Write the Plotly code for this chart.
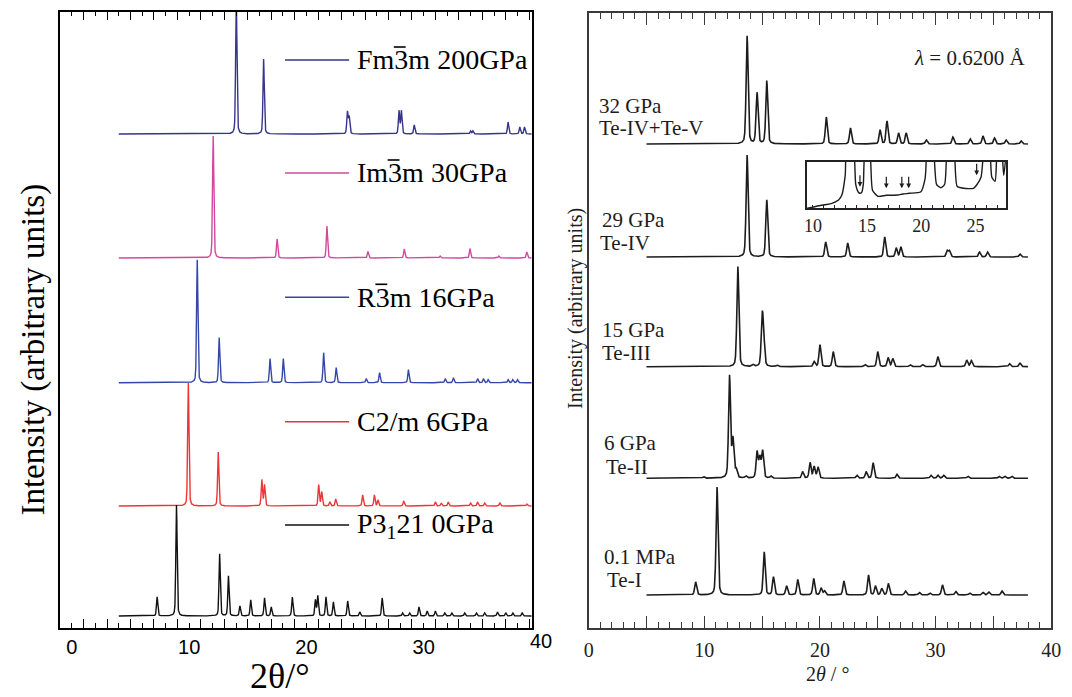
import numpy as np
import plotly.graph_objects as go

W, H = 1072, 697

# ---------------- LEFT PANEL DATA (calculated patterns) ----------------
left_names = ["Fm3m 200GPa", "Im3m 30GPa", "R3m 16GPa", "C2/m 6GPa", "P3<sub>1</sub>21 0GPa"]
left_colors = ["#35358a", "#d2489e", "#3446a8", "#ee3535", "#111111"]
left_offsets = [494, 370, 245.3, 122, 12]
# character width (em) of the text before the barred "3" in each label (None = no bar)
left_bar_prefix_em = [1.334, 1.111, 0.667, None, None]

fm3m_pos = [14.02, 16.35, 23.5, 23.65, 27.9, 28.1, 29.2, 34.0, 34.2, 37.2, 38.2, 38.6]
fm3m_h = [135, 75, 22, 17, 23, 23, 9, 3, 3, 12, 7, 7]

im3m_pos = [12.05, 17.5, 21.75, 25.25, 28.35, 31.4, 33.95, 36.4, 38.8]
im3m_h = [122, 19, 32, 6.5, 9, 2, 9.5, 2, 6]

r3m_pos = [10.69, 12.56, 16.9, 18.03, 21.47, 22.54, 25.1, 26.24, 28.7, 31.84, 32.54, 34.6, 35.1, 35.5, 37.2, 37.6, 38.0]
r3m_h = [123, 45, 24, 24, 30, 15, 4, 10, 13, 4, 5, 4, 4, 3, 3, 3, 3]

c2m_pos = [9.93, 12.48, 16.2, 16.43, 21.05, 21.3, 22.0, 22.5, 24.8, 25.8, 26.1, 28.3, 31.0, 31.5, 32.1, 34.0, 34.6, 35.2, 36.5, 38.8]
c2m_h = [123, 54, 26, 21, 21, 14, 4, 7, 11, 11, 6, 5, 4, 3, 4, 3, 4, 3, 3, 2]

p3121_pos = [7.27, 8.92, 12.6, 13.35, 14.33, 15.25, 16.43, 17.0, 18.8, 20.77, 20.97, 21.67, 22.3,
             23.52, 24.55, 26.46, 28.2, 28.8, 29.6, 30.3, 31.0, 31.8, 32.4, 33.5, 34.5, 35.2, 36.3, 37.0, 37.6, 38.4]
p3121_h = [19, 111, 62, 40, 10, 16, 18, 9, 19, 16, 20, 19, 14,
           15, 4, 18, 3, 3, 9, 5, 5, 3, 3, 3, 3, 3, 4, 3, 3, 3]

left_peaks = [(fm3m_pos, fm3m_h), (im3m_pos, im3m_h), (r3m_pos, r3m_h), (c2m_pos, c2m_h), (p3121_pos, p3121_h)]

# ---------------- RIGHT PANEL DATA (measured patterns) ----------------
right_labels = [("32 GPa", "Te-IV+Te-V"), ("29 GPa", "Te-IV"), ("15 GPa", "Te-III"), ("6 GPa", "Te-II"), ("0.1 MPa", "Te-I")]
right_offsets = [483.7, 370.7, 261, 149.4, 32.7]

p32_pos = [13.70, 14.56, 15.40, 20.55, 22.64, 25.2, 25.8, 26.8, 27.46, 29.2, 31.5, 33.0, 34.1, 35.1, 36.1, 37.4]
p32_h = [108, 51, 63, 27, 16, 14, 23, 11, 11, 4, 7, 5, 8, 6, 4, 3]

p29_pos = [13.70, 15.40, 20.5, 22.4, 25.6, 26.6, 27.0, 31.0, 31.2, 33.8, 34.5, 37.3]
p29_h = [102, 57, 15, 14, 20, 9, 10, 6, 6, 5, 5, 3]

p15_pos = [12.9, 14.2, 15.0, 15.13, 16.3, 19.5, 20.0, 21.15, 23.9, 25.0, 25.9, 26.3, 27.8, 28.9, 30.2, 32.7, 33.1, 36.4, 37.3]
p15_h = [100, 2, 46, 26, 1.5, 5, 22, 15, 2, 15, 9, 8, 2, 2, 10, 6.5, 6, 3, 3.5]

p6_pos = [9.95, 12.18, 12.47, 12.75, 13.6, 14.56, 14.8, 15.04, 15.76, 18.5, 19.15, 19.5, 19.84,
          23.2, 24.0, 24.6, 26.66, 29.6, 30.2, 30.7, 32.8, 35.5, 36.0, 36.6]
p6_h = [1.5, 102, 38, 8, 2, 26, 20, 27, 2, 6.5, 15.5, 11.5, 11,
        3, 6.5, 15.5, 4, 3, 3, 3, 2, 2, 2, 2]

p01_pos = [9.25, 11.1, 15.18, 15.98, 17.12, 18.08, 19.46, 20.1, 20.4, 22.07, 24.2, 24.8, 25.35, 25.92,
           27.4, 28.6, 29.5, 30.6, 31.75, 32.96, 34.1, 34.6, 35.75]
p01_h = [13, 108, 43, 18, 9, 15.5, 16.5, 7, 4, 14, 20, 9, 6.5, 11.5,
         4, 2.5, 2, 10, 3.5, 2, 2.5, 3, 4]

right_peaks = [(p32_pos, p32_h), (p29_pos, p29_h), (p15_pos, p15_h), (p6_pos, p6_h), (p01_pos, p01_h)]

# Inset curve (values above the box are clipped)
inset_x = [9.48, 10.55, 11.76, 12.37, 12.67, 12.98, 13.15, 13.7, 13.95, 14.2, 14.34, 14.5, 14.65, 14.85,
           15.2, 15.5, 16.0, 16.77, 17.83, 18.3, 18.9, 19.96, 20.35, 20.6, 21.05, 21.4, 21.8, 22.15, 22.45,
           22.95, 23.3, 23.9, 24.8, 25.1, 25.5, 25.85, 26.25, 26.5, 26.8, 27.05, 27.35, 27.6, 27.85]
inset_y = [0, 2.6, 5, 8.3, 13.3, 33, 60, 60, 24, 16, 15, 16, 24, 60,
           60, 18, 12, 13, 13.3, 14.3, 15, 16.6, 30, 60, 60, 24, 20.5, 24, 60,
           60, 22, 20, 20, 23.3, 31, 60, 60, 31, 27, 60, 60, 33, 60]
inset_arrows_x = [14.34, 16.77, 18.2, 18.83, 25.1]
inset_arrows_tip = [21.5, 20, 20, 20, 33]


def profile(x, pos, h, w, eta=0.35):
    y = np.zeros_like(x)
    for p, a in zip(pos, h):
        d = (x - p) / (w / 2.0)
        y += a * (eta / (1.0 + d * d) + (1 - eta) * np.exp(-np.log(2) * d * d))
    return y


fig = go.Figure()

xl = np.arange(4.0, 39.25, 0.01)
for (pos, h), off, col in zip(left_peaks, left_offsets, left_colors):
    fig.add_trace(go.Scatter(x=xl, y=off + profile(xl, pos, h, 0.13), mode="lines",
                             line=dict(color=col, width=1.4), xaxis="x", yaxis="y",
                             showlegend=False, hoverinfo="skip"))

xr = np.arange(5.0, 38.0, 0.01)
for (pos, h), off in zip(right_peaks, right_offsets):
    fig.add_trace(go.Scatter(x=xr, y=off + profile(xr, pos, h, 0.2), mode="lines",
                             line=dict(color="#1c1c1c", width=1.6), xaxis="x2", yaxis="y2",
                             showlegend=False, hoverinfo="skip"))

fig.add_trace(go.Scatter(x=inset_x, y=inset_y, mode="lines",
                         line=dict(color="#1c1c1c", width=1.4, shape="spline", smoothing=0.6),
                         xaxis="x3", yaxis="y3", showlegend=False, hoverinfo="skip"))


def px(x):
    return x / W


def py(y):
    return 1 - y / H


SERIF = "Liberation Serif"
SANS = "Liberation Sans"

even = list(range(0, 40, 2))
even_txt = [str(v) if v % 10 == 0 else "" for v in even]
odd = list(range(1, 40, 2))

layout = dict(
    width=W, height=H, margin=dict(l=0, r=0, t=0, b=0),
    paper_bgcolor="white", plot_bgcolor="rgba(0,0,0,0)",
    xaxis=dict(domain=[px(55.6), px(534)], range=[-1.03, 39.2], showgrid=False, zeroline=False,
               showline=True, linecolor="black", linewidth=1.5, mirror="ticks",
               ticks="inside", tickmode="array", tickvals=even, ticktext=even_txt, ticklen=5, tickwidth=1.3,
               tickcolor="black", tickfont=dict(family=SANS, size=20, color="black"),
               minor=dict(tickmode="array", tickvals=odd, ticklen=9, tickwidth=1.3, tickcolor="black", ticks="inside"),
               anchor="y"),
    yaxis=dict(domain=[py(628), py(11.7)], range=[0, 616.3], showgrid=False, zeroline=False,
               showline=True, linecolor="black", linewidth=1.5, mirror=True, ticks="", showticklabels=False,
               anchor="x"),
    xaxis2=dict(domain=[px(592), px(1061)], range=[0, 40], showgrid=False, zeroline=False,
                showline=True, linecolor="#3a3a3a", linewidth=2, mirror="ticks",
                ticks="inside", tickmode="array", tickvals=list(range(0, 41, 5)),
                ticktext=["0", "", "10", "", "20", "", "30", "", "40"], ticklen=12, tickwidth=1.4,
                tickcolor="#3a3a3a", ticklabelstandoff=3,
                tickfont=dict(family=SERIF, size=20, color="#222"),
                minor=dict(dtick=1, tick0=0, ticklen=6, tickwidth=1.2, tickcolor="#3a3a3a", ticks="inside"),
                anchor="y2"),
    yaxis2=dict(domain=[py(627.7), py(13.3)], range=[0, 614.4], showgrid=False, zeroline=False,
                showline=True, linecolor="#3a3a3a", linewidth=2, mirror=True, ticks="", showticklabels=False,
                anchor="x2"),
    xaxis3=dict(domain=[px(813.3), px(1015.7)], range=[9.45, 27.85], showgrid=False, zeroline=False,
                showline=True, linecolor="#222", linewidth=1.5, mirror=True,
                ticks="inside", tickvals=[10, 15, 20, 25], ticklen=4, tickwidth=1.1, tickcolor="#222",
                tickfont=dict(family=SERIF, size=18, color="#222"),
                minor=dict(dtick=1, tick0=0, ticklen=4, tickwidth=1.1, tickcolor="#222", ticks="inside"),
                anchor="y3"),
    yaxis3=dict(domain=[py(208.3), py(161.7)], range=[0, 46.6], showgrid=False, zeroline=False,
                showline=True, linecolor="#222", linewidth=1.5, mirror=True, ticks="", showticklabels=False,
                anchor="x3"),
)
fig.update_layout(**layout)

ann = []
shapes = []

# Left legend
LEG_FONT = 28
leg_y = [60, 173, 297.3, 421.7, 525]
for name, col, yy, pre in zip(left_names, left_colors, leg_y, left_bar_prefix_em):
    shapes.append(dict(type="line", xref="paper", yref="paper", x0=px(284), x1=px(349), y0=py(yy), y1=py(yy),
                       line=dict(color=col, width=1.5)))
    ann.append(dict(xref="paper", yref="paper", x=px(355), y=py(yy), text=name, showarrow=False,
                    xanchor="left", yanchor="middle", font=dict(family=SERIF, size=LEG_FONT, color="black")))
    if pre is not None:
        x0 = 355 + 1 + pre * LEG_FONT
        shapes.append(dict(type="line", xref="paper", yref="paper", x0=px(x0 + 1), x1=px(x0 + 0.5 * LEG_FONT - 1),
                           y0=py(yy - 13), y1=py(yy - 13), line=dict(color="black", width=1.6)))

# Left axis titles and '40' label
ann.append(dict(xref="paper", yref="paper", x=px(28), y=py(350), text="Intensity (arbitrary units)", textangle=-90,
                showarrow=False, xanchor="center", yanchor="middle", font=dict(family=SERIF, size=33, color="black")))
ann.append(dict(xref="paper", yref="paper", x=px(279), y=py(676), text="2θ/°", showarrow=False,
                xanchor="center", yanchor="middle", font=dict(family=SERIF, size=36, color="black")))
ann.append(dict(xref="paper", yref="paper", x=px(543.5), y=py(641), text="40", showarrow=False,
                xanchor="center", yanchor="middle", font=dict(family=SANS, size=20, color="black")))

# Right labels
lab_pos = [((600.5, 106), (600.5, 128.3)), ((603.8, 220), (601.5, 243.3)), ((603.8, 330), (603.8, 352.7)),
           ((605.5, 443.3), (607, 466.7)), ((605.5, 557.3), (609, 580))]
for (l1, l2), ((x1, y1), (x2, y2)) in zip(right_labels, lab_pos):
    for t, xx, yy in ((l1, x1, y1), (l2, x2, y2)):
        ann.append(dict(xref="paper", yref="paper", x=px(xx), y=py(yy), text=t, showarrow=False,
                        xanchor="left", yanchor="middle", font=dict(family=SERIF, size=21, color="#1c1c1c")))

ann.append(dict(xref="paper", yref="paper", x=px(1037), y=py(58), text="<i>λ</i> = 0.6200 Å", showarrow=False,
                xanchor="right", yanchor="middle", font=dict(family=SERIF, size=21, color="#1c1c1c")))
ann.append(dict(xref="paper", yref="paper", x=px(578), y=py(308), text="Intensity (arbitrary units)", textangle=-90,
                showarrow=False, xanchor="center", yanchor="middle", font=dict(family=SERIF, size=20, color="#1c1c1c")))
ann.append(dict(xref="paper", yref="paper", x=px(834), y=py(674), text="2<i>θ</i> / °", showarrow=False,
                xanchor="center", yanchor="middle", font=dict(family=SERIF, size=20, color="#1c1c1c")))

# Inset arrows
for ax_, tip in zip(inset_arrows_x, inset_arrows_tip):
    ann.append(dict(xref="x3", yref="y3", x=ax_, y=tip, ax=0, ay=-13, text="", showarrow=True,
                    arrowhead=2, arrowsize=0.8, arrowwidth=1.2, arrowcolor="#1c1c1c"))

fig.update_layout(annotations=ann, shapes=shapes)
fig.write_html("out.html")
